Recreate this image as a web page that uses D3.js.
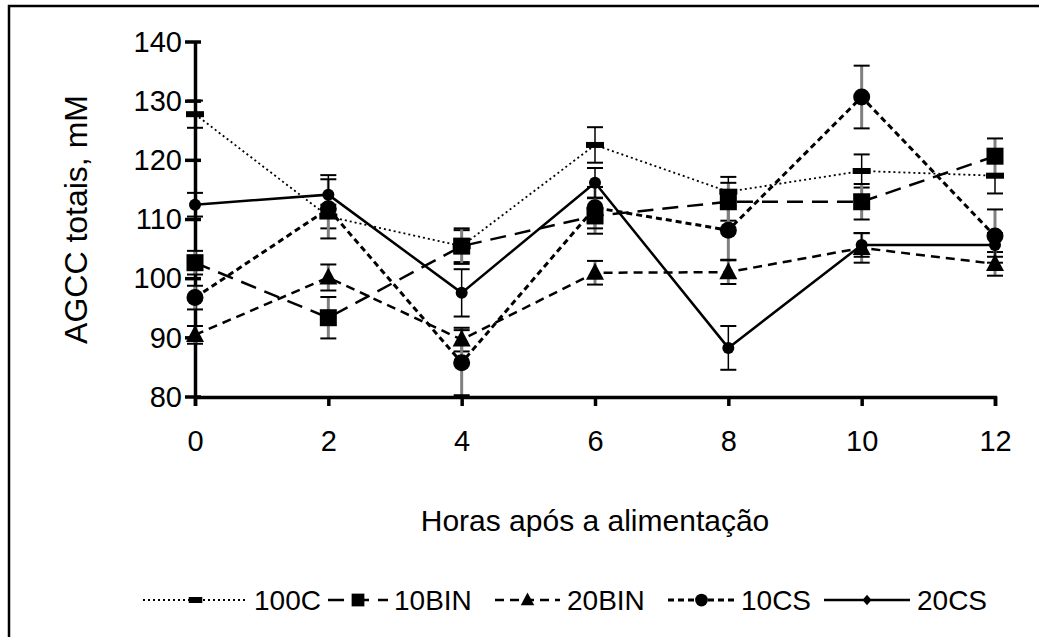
<!DOCTYPE html>
<html>
<head>
<meta charset="utf-8">
<script src="https://cdn.jsdelivr.net/npm/d3@7"></script>
<style>
  body { margin: 0; background: #fff; }
  svg text { font-family: "Liberation Sans", Arial, sans-serif; fill: #000; }
</style>
</head>
<body>
<div id="chart"></div>
<script>
// data
var hours = [0, 2, 4, 6, 8, 10, 12];
var yTicks = [80, 90, 100, 110, 120, 130, 140];
var seriesNames = ["100C", "10BIN", "20BIN", "10CS", "20CS"];

var v100C  = [127.8, 110.5, 105.5, 122.6, 114.7, 118.2, 117.4];
var e100C  = [2.3, 2, 2.7, 3, 2.5, 2.8, 3];
var v10BIN = [102.7, 93.4, 105.5, 110.6, 113, 113, 120.7];
var e10BIN = [2, 3.5, 3, 3, 3.2, 3, 3];
var v20BIN = [90.5, 100.2, 89.7, 101, 101.1, 105.2, 102.5];
var e20BIN = [1.5, 2.2, 2, 2, 2, 2.5, 2];
var v10CS  = [96.8, 111.8, 85.8, 112, 108.2, 130.7, 107.2];
var e10CS  = [2, 5, 5.5, 3.5, 5, 5.3, 4.5];
var v20CS  = [112.5, 114.2, 97.6, 116.2, 88.3, 105.7, 105.7];
var e20CS  = [2, 3.3, 4, 2.5, 3.7, 2, 2];

var W = 1039, H = 637;
var series = [
  {name: seriesNames[0], v: v100C,  e: e100C,  dash: "2,3",  lw: 1.8, mark: "bar",      stem: "#000", sw: 1.5},
  {name: seriesNames[1], v: v10BIN, e: e10BIN, dash: "16,9", lw: 2.5, mark: "square",   stem: "#808080", sw: 3},
  {name: seriesNames[2], v: v20BIN, e: e20BIN, dash: "9,6",  lw: 2.5, mark: "triangle", stem: "#808080", sw: 3},
  {name: seriesNames[3], v: v10CS,  e: e10CS,  dash: "6,4",  lw: 3,   mark: "circle",   stem: "#808080", sw: 3},
  {name: seriesNames[4], v: v20CS,  e: e20CS,  dash: null,   lw: 2.5, mark: "dot",      stem: "#000", sw: 1.5}
];

var svg = d3.select("#chart").append("svg")
  .attr("width", W)
  .attr("height", H);

// frame (right and bottom edges fall outside the picture)
svg.append("path")
  .attr("d", "M9,645 L9,6 L1045,6")
  .attr("fill", "none")
  .attr("stroke", "#000")
  .attr("stroke-width", 2.5);

var x = d3.scaleLinear().domain([0, 12]).range([195, 995]);
var y = d3.scaleLinear().domain([80, 140]).range([397, 42]);

// axes
var yAxis = d3.axisLeft(y).tickValues(yTicks).tickSize(0).tickPadding(13);
var gy = svg.append("g").attr("transform", "translate(" + x(0) + ",0)").call(yAxis);
gy.select(".domain").attr("stroke-width", 3.5);
gy.selectAll(".tick text").style("font-size", "29px");

var xAxis = d3.axisBottom(x).tickValues(hours).tickSize(9).tickPadding(24);
var gx = svg.append("g").attr("transform", "translate(0," + y(80) + ")").call(xAxis);
gx.select(".domain").attr("stroke-width", 3.5);
gx.selectAll(".tick line").attr("stroke-width", 3.5);
gx.selectAll(".tick text").style("font-size", "29px");

// y ticks crossing the axis
svg.append("g").selectAll("line")
  .data(yTicks)
  .enter().append("line")
  .attr("x1", x(0) - 10).attr("x2", x(0) + 6)
  .attr("y1", function(d) { return y(d); })
  .attr("y2", function(d) { return y(d); })
  .attr("stroke", "#000")
  .attr("stroke-width", 3.5);

// titles
svg.append("text")
  .attr("transform", "translate(87," + ((y(80) + y(140)) / 2) + ") rotate(-90)")
  .attr("text-anchor", "middle")
  .style("font-size", "32px")
  .text("AGCC totais, mM");

svg.append("text")
  .attr("x", (x(0) + x(12)) / 2)
  .attr("y", 531)
  .attr("text-anchor", "middle")
  .style("font-size", "30px")
  .text("Horas após a alimentação");

function drawMark(g, type, cx, cy, k, legend) {
  k = k || 1;
  if (type == "bar") {
    g.append("rect").attr("x", cx - 9 * k).attr("y", cy - 3).attr("width", 18 * k).attr("height", 6);
  } else if (type == "square") {
    g.append("rect").attr("x", cx - 8.5 * k).attr("y", cy - 8.5 * k).attr("width", 17 * k).attr("height", 17 * k);
  } else if (type == "triangle") {
    g.append("path").attr("d", "M" + cx + "," + (cy - 10 * k) + " L" + (cx + 9 * k) + "," + (cy + 7 * k) + " L" + (cx - 9 * k) + "," + (cy + 7 * k) + " Z");
  } else if (type == "circle") {
    g.append("circle").attr("cx", cx).attr("cy", cy).attr("r", 8.5 * k);
  } else if (legend) {
    g.append("path").attr("d", "M" + cx + "," + (cy - 7 * k) + " L" + (cx + 6 * k) + "," + cy + " L" + cx + "," + (cy + 7 * k) + " L" + (cx - 6 * k) + "," + cy + " Z");
  } else {
    g.append("circle").attr("cx", cx).attr("cy", cy).attr("r", 6);
  }
}

var line = d3.line()
  .x(function(d, i) { return x(hours[i]); })
  .y(function(d) { return y(d); });

// error bars first, then lines, then markers
series.forEach(function(s) {
  var g = svg.append("g");
  hours.forEach(function(h, i) {
    var px = x(h), lo = y(s.v[i] - s.e[i]), hi = y(s.v[i] + s.e[i]);
    g.append("line").attr("x1", px).attr("x2", px).attr("y1", lo).attr("y2", hi)
      .attr("stroke", s.stem).attr("stroke-width", s.sw);
    [lo, hi].forEach(function(yy) {
      g.append("line").attr("x1", px - 8).attr("x2", px + 8).attr("y1", yy).attr("y2", yy)
        .attr("stroke", "#000").attr("stroke-width", 2);
    });
  });
});

series.forEach(function(s) {
  svg.append("path")
    .datum(s.v)
    .attr("d", line)
    .attr("fill", "none")
    .attr("stroke", "#000")
    .attr("stroke-width", s.lw)
    .attr("stroke-dasharray", s.dash);
});

series.forEach(function(s) {
  var g = svg.append("g").attr("fill", "#000");
  s.v.forEach(function(d, i) { drawMark(g, s.mark, x(hours[i]), y(d)); });
});

// legend: sample start, sample end, text start
var legX0 = [143, 328, 495, 668, 824];
var legX1 = [248, 388, 560, 735, 910];
var legT  = [254, 394, 567, 741, 917];
var leg = svg.append("g");
series.forEach(function(s, i) {
  var ly = 600;
  leg.append("line")
    .attr("x1", legX0[i]).attr("x2", legX1[i])
    .attr("y1", ly).attr("y2", ly)
    .attr("stroke", "#000")
    .attr("stroke-width", s.lw)
    .attr("stroke-dasharray", s.dash);
  var mg = leg.append("g").attr("fill", "#000");
  drawMark(mg, s.mark, (legX0[i] + legX1[i]) / 2, ly, 0.75, true);
  leg.append("text")
    .attr("x", legT[i])
    .attr("y", ly + 10)
    .style("font-size", "28px")
    .text(s.name);
});
</script>
</body>
</html>
